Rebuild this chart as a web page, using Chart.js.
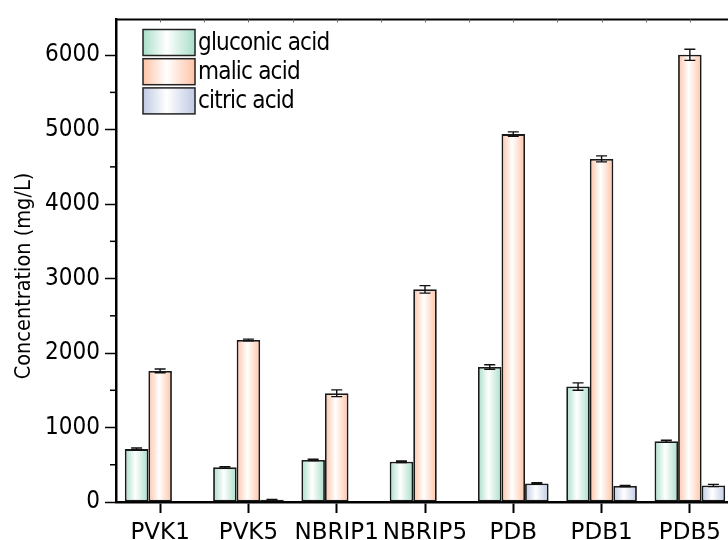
<!DOCTYPE html>
<html>
<head>
<meta charset="utf-8">
<script src="https://cdn.jsdelivr.net/npm/chart.js@4/dist/chart.umd.min.js"></script>
<style>
  html, body { margin:0; padding:0; background:#fff; overflow:hidden; }
  #wrap { width:734px; height:540px; }
</style>
</head>
<body>
<div id="wrap"><canvas id="c"></canvas></div>
<script>
// ── data ────────────────────────────────────────────────────────────────────
const categories  = ["PVK1","PVK5","NBRIP1","NBRIP5","PDB","PDB1","PDB5"];
const seriesNames = ["gluconic acid","malic acid","citric acid"];
const gluconic    = [710, 465, 565, 540, 1812, 1550, 815];
const gluconicErr = [15, 10, 10, 10, 30, 50, 15];
const malic       = [1760, 2175, 1460, 2855, 4940, 4607, 6005];
const malicErr    = [25, 12, 45, 50, 30, 40, 75];
const citric      = [null, 30, null, null, 250, 215, 222];
const citricErr   = [0, 5, 0, 0, 8, 8, 15];
const yTicks      = [0, 1000, 2000, 3000, 4000, 5000, 6000];
const yMinor      = [500, 1500, 2500, 3500, 4500, 5500];
const yTitle      = "Concentration (mg/L)";

// edge colour of each series (bars fade to white in the middle)
const EDGE = ["#a8dec8", "#ffc3a6", "#bfcae3"];
const INK = "#000";
const COND = "'DejaVu Sans Condensed', 'DejaVu Sans', sans-serif";
const SANS = "'DejaVu Sans', sans-serif";

function grad(ctx, x0, x1, edge){
  const g = ctx.createLinearGradient(x0, 0, x1, 0);
  g.addColorStop(0, edge);
  g.addColorStop(0.45, "#ffffff");
  g.addColorStop(1, edge);
  return g;
}

// gradient fill per bar, using the bar's own position
const barFill = {
  id:"barFill",
  beforeDatasetsDraw(chart){
    chart.data.datasets.forEach((ds, i)=>{
      chart.getDatasetMeta(i).data.forEach(el=>{
        const w = el.width, x = el.x;
        el.options = Object.assign({}, el.options, { backgroundColor: grad(chart.ctx, x - w/2, x + w/2, EDGE[i]) });
      });
    });
  }
};

// error bars from each dataset's errors list; y axis (z:1) is drawn right after,
// so the tighter letter spacing set here only applies to its labels
const errorBars = {
  id:"errorBars",
  afterDatasetsDraw(chart){
    const { ctx, scales:{ y } } = chart;
    ctx.save();
    ctx.strokeStyle = "#111"; ctx.lineWidth = 1.4;
    chart.data.datasets.forEach((ds, i)=>{
      chart.getDatasetMeta(i).data.forEach((el, j)=>{
        const v = ds.data[j], e = ds.errors[j];
        if(v == null || !e) return;
        const top = y.getPixelForValue(v + e), bot = y.getPixelForValue(v - e), cw = 5.5;
        ctx.beginPath();
        ctx.moveTo(el.x, top); ctx.lineTo(el.x, bot);
        ctx.moveTo(el.x - cw, top); ctx.lineTo(el.x + cw, top);
        ctx.moveTo(el.x - cw, bot); ctx.lineTo(el.x + cw, bot);
        ctx.stroke();
      });
    });
    ctx.restore();
    ctx.letterSpacing = "-1.1px";
  }
};

// frame top, minor ticks, y title and legend
const decor = {
  id:"decor",
  afterDraw(chart){
    const { ctx, chartArea:a, scales:{ x, y } } = chart;
    ctx.letterSpacing = "0px";
    ctx.save();
    // top frame line with small ticks
    ctx.strokeStyle = INK; ctx.lineWidth = 2;
    ctx.beginPath(); ctx.moveTo(a.left - 1, a.top); ctx.lineTo(a.right, a.top); ctx.stroke();
    ctx.strokeStyle = "#666"; ctx.lineWidth = 1;
    const step = (x.getPixelForValue(1) - x.getPixelForValue(0)) / 2;
    for(let px = a.left + step; px < a.right; px += step){
      ctx.beginPath(); ctx.moveTo(Math.round(px) + 0.5, a.top); ctx.lineTo(Math.round(px) + 0.5, a.top + 3); ctx.stroke();
    }
    // y minor ticks
    ctx.strokeStyle = INK; ctx.lineWidth = 1.5;
    yMinor.forEach(v=>{
      const py = y.getPixelForValue(v);
      ctx.beginPath(); ctx.moveTo(a.left - 6, py); ctx.lineTo(a.left, py); ctx.stroke();
    });
    // y title
    ctx.fillStyle = INK;
    ctx.font = `21.5px ${COND}`;
    ctx.textAlign = "center"; ctx.textBaseline = "middle";
    ctx.translate(24, 276); ctx.rotate(-Math.PI/2);
    ctx.fillText(yTitle, 0, 0);
    ctx.setTransform(1,0,0,1,0,0);
    // legend
    const bx = 143, bw = 52, bh = 26, pitch = 29.2;
    ctx.font = `24px ${COND}`;
    ctx.letterSpacing = "-0.8px";
    ctx.textAlign = "left";
    chart.data.datasets.forEach((ds, i)=>{
      const by = 29.5 + i * pitch;
      ctx.fillStyle = grad(ctx, bx, bx + bw, EDGE[i]);
      ctx.fillRect(bx, by, bw, bh);
      ctx.strokeStyle = "#222"; ctx.lineWidth = 1.5;
      ctx.strokeRect(bx, by, bw, bh);
      ctx.fillStyle = INK;
      ctx.fillText(ds.label, bx + bw + 3, by + bh/2 + 1);
    });
    ctx.restore();
  }
};

const series = [gluconic, malic, citric];
const errs = [gluconicErr, malicErr, citricErr];

new Chart(document.getElementById("c"), {
  type:"bar",
  data:{
    labels: categories,
    datasets: seriesNames.map((name, i)=>({
      label: name, data: series[i], errors: errs[i],
      backgroundColor: EDGE[i], borderColor:"#1a1a1a", borderWidth:1.8, borderSkipped:false,
      categoryPercentage:0.8, barPercentage:1.0
    }))
  },
  options:{
    responsive:true, maintainAspectRatio:false, animation:false,
    layout:{ padding:{ top:16, left:0, right:0, bottom:0 } },
    plugins:{ legend:{ display:false }, tooltip:{ enabled:false } },
    scales:{
      x:{
        grid:{ offset:false, drawOnChartArea:false, tickLength:11, tickWidth:2, tickColor:INK },
        border:{ color:INK, width:2.5 },
        ticks:{ color:INK, font:{ family:SANS, size:23 }, padding:6, maxRotation:0, autoSkip:false },
        afterFit: s => { s.height = 38; }
      },
      y:{
        z:1,
        min:0, max:6480,
        afterBuildTicks: s => { s.ticks = yTicks.map(v=>({ value:v })); },
        grid:{ drawOnChartArea:false, tickLength:11, tickWidth:1.5, tickColor:INK },
        border:{ color:INK, width:2.5 },
        ticks:{ color:INK, font:{ family:COND, size:24 }, padding:5, callback: v => String(v) },
        afterFit: s => { s.width = 116; }
      }
    }
  },
  plugins:[barFill, errorBars, decor]
});
</script>
</body>
</html>
